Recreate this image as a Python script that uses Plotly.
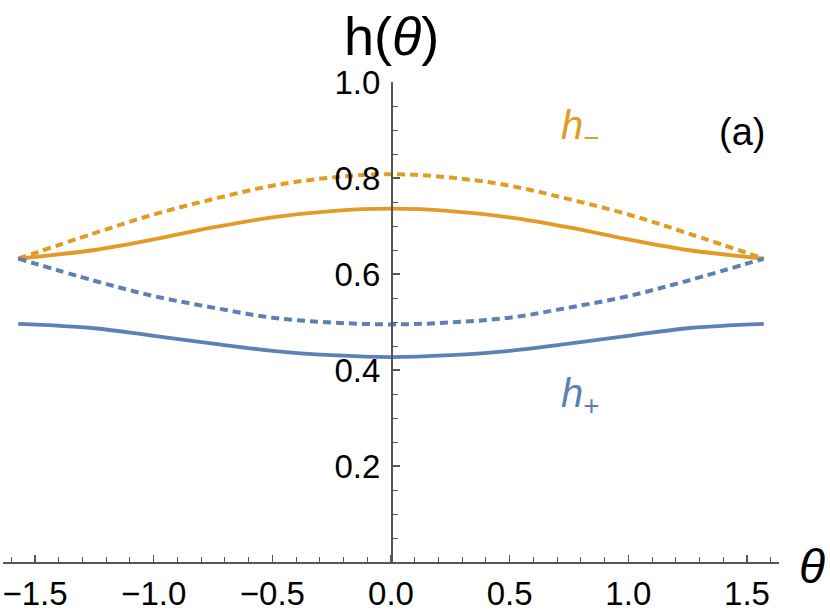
import plotly.graph_objects as go

theta = [-1.5708, -1.25, -1.0, -0.75, -0.5, -0.25, 0.0,
         0.25, 0.5, 0.75, 1.0, 1.25, 1.5708]
h_minus_solid = [0.632, 0.650, 0.672, 0.697, 0.718, 0.731, 0.736,
                 0.731, 0.718, 0.697, 0.672, 0.650, 0.632]
h_minus_dotted = [0.632, 0.685, 0.724, 0.756, 0.784, 0.801, 0.808,
                  0.801, 0.784, 0.756, 0.724, 0.685, 0.632]
h_plus_dotted = [0.632, 0.586, 0.554, 0.530, 0.509, 0.499, 0.495,
                 0.499, 0.509, 0.530, 0.554, 0.586, 0.632]
h_plus_solid = [0.496, 0.487, 0.471, 0.455, 0.440, 0.431, 0.427,
                0.431, 0.440, 0.455, 0.471, 0.487, 0.496]

x_tickvals = [-1.5, -1.0, -0.5, 0.0, 0.5, 1.0, 1.5]
x_ticktext = ["\u22121.5", "\u22121.0", "\u22120.5", "0.0", "0.5", "1.0", "1.5"]
y_tickvals = [0.2, 0.4, 0.6, 0.8, 1.0]
y_ticktext = ["0.2", "0.4", "0.6", "0.8", "1.0"]

ORANGE = "#E09C24"
BLUE = "#5E81B5"
AXIS = "#555555"
FONT = "Liberation Sans, Arial, sans-serif"

fig = go.Figure()
fig.add_trace(go.Scatter(x=theta, y=h_minus_dotted, mode="lines", line_shape="spline",
                         line=dict(color=ORANGE, width=4, dash="8px,5px")))
fig.add_trace(go.Scatter(x=theta, y=h_minus_solid, mode="lines", line_shape="spline",
                         line=dict(color=ORANGE, width=3.8)))
fig.add_trace(go.Scatter(x=theta, y=h_plus_dotted, mode="lines", line_shape="spline",
                         line=dict(color=BLUE, width=4, dash="8px,5px")))
fig.add_trace(go.Scatter(x=theta, y=h_plus_solid, mode="lines", line_shape="spline",
                         line=dict(color=BLUE, width=3.8)))

fig.update_layout(
    width=830, height=614,
    margin=dict(l=3, r=51, t=82, b=52),
    paper_bgcolor="white", plot_bgcolor="white",
    showlegend=False,
    font=dict(family=FONT, size=33, color="black"),
    xaxis=dict(range=[-1.635, 1.635], domain=[0, 1], automargin=False,
               showgrid=False, zeroline=False,
               showline=True, linecolor=AXIS, linewidth=1.5,
               ticks="inside", ticklen=7, tickwidth=1.2, tickcolor=AXIS,
               tickvals=x_tickvals, ticktext=x_ticktext,
               ticklabelstandoff=2,
               minor=dict(ticks="inside", ticklen=5, tickwidth=1, tickcolor=AXIS, dtick=0.1,
                          tick0=0, showgrid=False),
               tickfont=dict(size=33, family=FONT)),
    yaxis=dict(range=[0, 1], anchor="free", position=0.5, automargin=False,
               showgrid=False, zeroline=False,
               showline=True, linecolor=AXIS, linewidth=1.5,
               ticks="inside", ticklen=7, tickwidth=1.2, tickcolor=AXIS,
               tickvals=y_tickvals, ticktext=y_ticktext,
               ticklabelstandoff=4,
               minor=dict(ticks="inside", ticklen=5, tickwidth=1, tickcolor=AXIS, dtick=0.05,
                          tick0=0, showgrid=False),
               tickfont=dict(size=33, family=FONT)),
)

fig.add_annotation(text="h(<i>θ</i>)", x=0.0, y=1.0, xref="x", yref="y",
                   yshift=46, xshift=0, showarrow=False,
                   font=dict(size=54, family=FONT, color="black"))
fig.add_annotation(text="<i>θ</i>", x=1.0, y=0, xref="paper", yref="y",
                   xanchor="left", xshift=18, yshift=-4, showarrow=False,
                   font=dict(size=48, family=FONT, color="black"))
fig.add_annotation(text="<i>h</i><sub>\u2212</sub>", x=0.80, y=0.905, xref="x", yref="y",
                   showarrow=False, font=dict(size=40, family=FONT, color=ORANGE))
fig.add_annotation(text="<i>h</i><sub>+</sub>", x=0.80, y=0.345, xref="x", yref="y",
                   showarrow=False, font=dict(size=40, family=FONT, color=BLUE))
fig.add_annotation(text="(a)", x=1.48, y=0.895, xref="x", yref="y",
                   showarrow=False, font=dict(size=38, family=FONT, color="black"))

fig.write_html("out.html",
               config={"displayModeBar": False, "staticPlot": True},
               post_script="document.body.style.margin='0';document.body.style.overflow='hidden';")
